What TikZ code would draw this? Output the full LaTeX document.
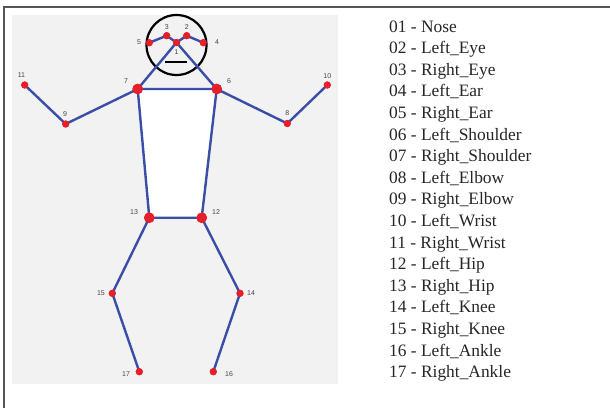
\documentclass[tikz,border=0pt]{standalone}
\usepackage{fontspec}
\setmainfont{Liberation Serif}
\newfontfamily\labelfont{Liberation Sans}
\definecolor{bone}{RGB}{58,78,168}
\definecolor{joint}{RGB}{232,30,40}
\definecolor{panel}{RGB}{242,242,242}
\definecolor{frameline}{RGB}{85,85,85}
\definecolor{numtext}{RGB}{70,70,70}
\tikzset{
  bonestyle/.style={draw=bone, line width=2.4pt, line cap=round, line join=round},
  jointsmall/.style={circle, fill=joint, inner sep=0pt, minimum size=7pt},
  jointbig/.style={circle, fill=joint, inner sep=0pt, minimum size=10.5pt},
  jlabel/.style={font=\labelfont\fontsize{7}{8}\selectfont, text=numtext, inner sep=0pt},
  legend/.style={font=\fontsize{17.4}{20}\selectfont, anchor=base west, inner sep=0pt, text=black!85},
}
\begin{document}
\begin{tikzpicture}[x=1pt, y=-1pt]
\useasboundingbox (0,0) rectangle (610,408);
\fill[white] (0,0) rectangle (610,408);
% outer frame (top and left edges)
\draw[frameline, line width=1.2pt] (610,7) -- (4,7) -- (4,408);
% plotting panel
\fill[panel] (12,15) rectangle (338,384);

% joints
\node[jointsmall] (j1) at (176.5,42.5) {};
\node[jointsmall] (j2) at (186.7,35.7) {};
\node[jointsmall] (j3) at (166.7,35.7) {};
\node[jointsmall] (j4) at (203.3,42.7) {};
\node[jointsmall] (j5) at (149.3,42.7) {};
\node[jointbig] (j6) at (216.7,89) {};
\node[jointbig] (j7) at (137.7,89) {};
\node[jointsmall] (j8) at (287.3,123.5) {};
\node[jointsmall] (j9) at (65.7,124) {};
\node[jointsmall] (j10) at (327.3,85) {};
\node[jointsmall] (j11) at (24.7,85) {};
\node[jointbig] (j12) at (201.7,217.7) {};
\node[jointbig] (j13) at (149.3,217.7) {};
\node[jointsmall] (j14) at (240,293.3) {};
\node[jointsmall] (j15) at (112.3,293.3) {};
\node[jointsmall] (j16) at (213.3,371.7) {};
\node[jointsmall] (j17) at (139.3,371.7) {};

% head outline and mouth
\node[circle, draw=black, line width=2.2pt, minimum size=60pt, inner sep=0pt] (head) at (176.5,45) {};
\coordinate (mouthL) at (165,61.7);
\coordinate (mouthR) at (186.7,61.7);
\draw[black, line width=2pt] (mouthL) -- (mouthR);

% torso
\fill[white] (j7.center) -- (j6.center) -- (j12.center) -- (j13.center) -- cycle;

% skeleton bones
\draw[bonestyle] (j5.center) -- (j3.center) -- (j1.center) -- (j2.center) -- (j4.center);
\draw[bonestyle] (j7.center) -- (j1.center) -- (j6.center);
\draw[bonestyle] (j7.center) -- (j6.center) -- (j12.center) -- (j13.center) -- cycle;
\draw[bonestyle] (j11.center) -- (j9.center) -- (j7.center);
\draw[bonestyle] (j10.center) -- (j8.center) -- (j6.center);
\draw[bonestyle] (j13.center) -- (j15.center) -- (j17.center);
\draw[bonestyle] (j12.center) -- (j14.center) -- (j16.center);

% joints on top of bones
\foreach \j in {1,2,3,4,5,8,9,10,11,14,15,16,17}
  \fill[joint] (j\j) circle (3.6pt);
\foreach \j in {6,7,12,13}
  \fill[joint] (j\j) circle (5.3pt);

% joint numbers
\node[jlabel] (n1) at (176.5,52.5) {1};
\node[jlabel] (n2) at (186.7,27.5) {2};
\node[jlabel] (n3) at (166.7,27.5) {3};
\node[jlabel] (n4) at (217,42.5) {4};
\node[jlabel] (n5) at (139,42.5) {5};
\node[jlabel] (n6) at (229,81) {6};
\node[jlabel] (n7) at (126,81) {7};
\node[jlabel] (n8) at (287.3,113) {8};
\node[jlabel] (n9) at (65,114) {9};
\node[jlabel] (n10) at (327.3,76) {10};
\node[jlabel] (n11) at (21.5,75) {11};
\node[jlabel] (n12) at (216,212) {12};
\node[jlabel] (n13) at (134,212) {13};
\node[jlabel] (n14) at (251,293.3) {14};
\node[jlabel] (n15) at (101,293.3) {15};
\node[jlabel] (n16) at (229,374) {16};
\node[jlabel] (n17) at (126,374) {17};

% legend
\foreach \t [count=\i from 0] in {01 - Nose, 02 - Left\_Eye, 03 - Right\_Eye, 04 - Left\_Ear,
  05 - Right\_Ear, 06 - Left\_Shoulder, 07 - Right\_Shoulder, 08 - Left\_Elbow,
  09 - Right\_Elbow, 10 - Left\_Wrist, 11 - Right\_Wrist, 12 - Left\_Hip,
  13 - Right\_Hip, 14 - Left\_Knee, 15 - Right\_Knee, 16 - Left\_Ankle, 17 - Right\_Ankle}
  \node[legend] (leg\i) at (389, 32+21.6*\i) {\t};
\end{tikzpicture}
\end{document}
